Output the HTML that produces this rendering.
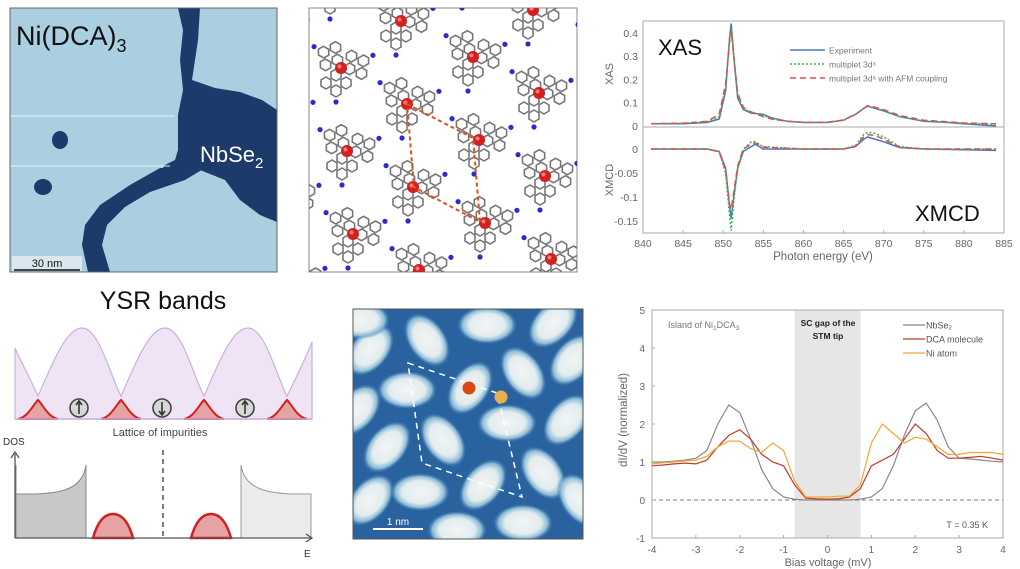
<!DOCTYPE html>
<html><head><meta charset="utf-8">
<style>
html,body{margin:0;padding:0;background:#fff;}
body{width:1020px;height:569px;position:relative;overflow:hidden;font-family:"Liberation Sans",sans-serif;}
svg{position:absolute;left:0;top:0;}
</style></head>
<body>
<svg width="1020" height="569" viewBox="0 0 1020 569">
<defs>
  <radialGradient id="blob" cx="50%" cy="50%" r="50%">
    <stop offset="0%" stop-color="#f4f5f5"/>
    <stop offset="60%" stop-color="#e2ecef"/>
    <stop offset="82%" stop-color="#8cbcd6"/>
    <stop offset="100%" stop-color="#3a78b0" stop-opacity="0"/>
  </radialGradient>
  <g id="arm">
    <polygon points="0,-10 5,-13 10,-10 10,-4 5,-1 0,-4" fill="none" stroke="#777" stroke-width="1.6"/>
    <polygon points="-10,-18 -5,-21 0,-18 0,-12 -5,-9 -10,-12" fill="none" stroke="#777" stroke-width="1.6"/>
    <polygon points="0,-26 5,-29 10,-26 10,-20 5,-17 0,-20" fill="none" stroke="#777" stroke-width="1.6"/>
    <polygon points="10,-18 15,-21 20,-18 20,-12 15,-9 10,-12" fill="none" stroke="#777" stroke-width="1.6"/>
    <circle cx="5" cy="-34" r="2.6" fill="#2a2ad0"/>
    <circle cx="2" cy="-3" r="2.4" fill="#2a2ad0"/>
  </g>
  <g id="mol">
    <use href="#arm" transform="rotate(-60)"/>
    <use href="#arm" transform="rotate(60)"/>
    <use href="#arm" transform="rotate(180)"/>
    <circle r="6" fill="#d62020"/>
    <circle cx="-1.5" cy="-1.5" r="2" fill="#f08080"/>
  </g>
  <clipPath id="clipMol"><rect x="309" y="8" width="268" height="264"/></clipPath>
  <clipPath id="clipStm2"><rect x="353" y="309" width="230" height="230"/></clipPath>
</defs>

<!-- STM image 1 -->
<g>
  <rect x="10" y="8" width="267" height="264" fill="#a9cfe0"/>
  <polygon points="178,8 200,8 198,40 192,80 215,88 240,92 262,100 277,110 277,222 260,215 240,200 225,180 200,170 175,168 160,172 165,165 175,160 178,150 178,115 183,90 180,60 183,30" fill="#1c3a6a"/>
  <polygon points="160,168 205,168 185,180 150,192 125,207 107,225 102,245 110,272 88,272 82,245 85,225 100,205 130,185" fill="#1c3a6a"/>
  <ellipse cx="60" cy="140" rx="8" ry="9" fill="#1c3a6a"/>
  <ellipse cx="43" cy="187" rx="9" ry="8" fill="#1c3a6a"/>
  <line x1="10" y1="116" x2="175" y2="116" stroke="#e6f2f8" stroke-width="1"/>
  <line x1="10" y1="166" x2="170" y2="166" stroke="#e6f2f8" stroke-width="1"/>
  <text x="16" y="45" font-size="27" fill="#111">Ni(DCA)<tspan font-size="18" dy="7">3</tspan></text>
  <text x="200" y="162" font-size="22" fill="#fff">NbSe<tspan font-size="15" dy="6">2</tspan></text>
  <rect x="12" y="256" width="70" height="15" fill="#d8e8ee"/>
  <line x1="14" y1="270" x2="80" y2="270" stroke="#111" stroke-width="1.5"/>
  <text x="47" y="267" font-size="11" text-anchor="middle" fill="#111">30 nm</text>
  <rect x="10" y="8" width="267" height="264" fill="none" stroke="#666" stroke-width="1"/>
</g>

<!-- molecular model -->
<g>
  <rect x="309" y="8" width="268" height="264" fill="#fff" stroke="#888" stroke-width="1"/>
  <g clip-path="url(#clipMol)" id="molLayer"></g>
  <polygon points="407,104 473,138 480,222 414,187" fill="none" stroke="#e0501c" stroke-width="2" stroke-dasharray="4,3"/>
</g>

<!-- XAS / XMCD chart -->
<g id="xasChart"></g>

<!-- YSR schematic -->
<g>
  <text x="163" y="309" font-size="25" text-anchor="middle" fill="#111">YSR bands</text>
  <path d="M15,348 C20,360 30,378 38,396 C50,370 65,328 82,328 C99,328 110,375 121,396 C133,370 148,328 165,328 C182,328 193,375 204,396 C216,370 231,328 248,328 C265,328 276,375 287,396 C295,380 305,360 312,342 L312,419 L15,419 Z" fill="#efe4f6" stroke="#c9b0dc" stroke-width="1.2"/>
  <g fill="#e6a3a3" stroke="#d42020" stroke-width="2">
    <path d="M18,419 C28,417 33,405 38,400 C43,405 48,417 58,419 Z"/>
    <path d="M101,419 C111,417 116,405 121,400 C126,405 131,417 141,419 Z"/>
    <path d="M184,419 C194,417 199,405 204,400 C209,405 214,417 224,419 Z"/>
    <path d="M267,419 C277,417 282,405 287,400 C292,405 297,417 307,419 Z"/>
  </g>
  <line x1="15" y1="419" x2="312" y2="419" stroke="#c9b0dc" stroke-width="1.5"/>
  <g fill="#d8d8d8" stroke="#444" stroke-width="1.6">
    <circle cx="79" cy="408" r="9"/>
    <circle cx="162" cy="408" r="9"/>
    <circle cx="245" cy="408" r="9"/>
  </g>
  <g stroke="#333" stroke-width="1.6" fill="none">
    <path d="M79,414 L79,402 M76,405 L79,401 L82,405"/>
    <path d="M162,402 L162,414 M159,411 L162,415 L165,411"/>
    <path d="M245,414 L245,402 M242,405 L245,401 L248,405"/>
  </g>
  <text x="160" y="436" font-size="11" text-anchor="middle" fill="#444">Lattice of impurities</text>
  <text x="3" y="445" font-size="10" fill="#333">DOS</text>
  <path d="M16,465 L16,494 C50,494 82,495 86,465 L86,538 L16,538 Z" fill="#c8c8c8" stroke="#888" stroke-width="1"/>
  <path d="M311,494 C280,494 245,495 241,465 L241,538 L311,538 Z" fill="#ececec" stroke="#999" stroke-width="1"/>
  <path d="M93,538 C98,520 105,514 113,514 C121,514 128,520 133,538 Z" fill="#e6a3a3" stroke="#d42020" stroke-width="2.5"/>
  <path d="M191,538 C196,520 203,514 211,514 C219,514 226,520 231,538 Z" fill="#e6a3a3" stroke="#d42020" stroke-width="2.5"/>
  <line x1="163" y1="450" x2="163" y2="538" stroke="#555" stroke-width="1.5" stroke-dasharray="5,4"/>
  <line x1="15" y1="538" x2="15" y2="454" stroke="#555" stroke-width="1.3"/>
  <path d="M11,458 L15,452 L19,458" fill="none" stroke="#555" stroke-width="1.3"/>
  <line x1="15" y1="538" x2="311" y2="538" stroke="#555" stroke-width="1.3"/>
  <path d="M306,534 L312,538 L306,542" fill="none" stroke="#555" stroke-width="1.3"/>
  <text x="304" y="557" font-size="10" fill="#333">E</text>
</g>

<!-- STM image 2 -->
<g>
  <rect x="353" y="309" width="230" height="230" fill="#2a62a0"/>
  <g clip-path="url(#clipStm2)" id="blobLayer"></g>
  <polygon points="408,363 497,393 522,497 422,463" fill="none" stroke="#fff" stroke-width="1.5" stroke-dasharray="6,5"/>
  <circle cx="469" cy="388" r="6.5" fill="#dc4a14"/>
  <circle cx="501" cy="397" r="6.5" fill="#e8b04a"/>
  <line x1="373" y1="529" x2="423" y2="529" stroke="#fff" stroke-width="2"/>
  <text x="398" y="525" font-size="10" fill="#fff" text-anchor="middle">1 nm</text>
  <rect x="353" y="309" width="230" height="230" fill="none" stroke="#555" stroke-width="1"/>
</g>

<!-- dI/dV chart -->
<g id="didvChart"></g>
</svg>

<script>
const NS = "http://www.w3.org/2000/svg";
function mk(tag, attrs, parent) {
  const e = document.createElementNS(NS, tag);
  for (const k in attrs) e.setAttribute(k, attrs[k]);
  parent.appendChild(e);
  return e;
}

/* ---------- molecule lattice (illustration) ---------- */
const molLayer = document.getElementById('molLayer');
for (let i = -2; i <= 5; i++) {
  for (let j = -2; j <= 4; j++) {
    const x = 341 + 66 * i + 6 * j;
    const yy = 68 + 36 * i + 83 * j;
    const u = mk('use', {href: '#mol', transform: `translate(${x},${yy - 83 * Math.round((36 * i) / 83)})`}, molLayer);
    
    
  }
}

/* ---------- STM zoom blobs (illustration) ---------- */
const blobLayer = document.getElementById('blobLayer');
const blobs = [[370,350,-50],[427,340,55],[487,325,0],[553,323,-45],[407,390,0],[470,388,-55],[523,373,55],[573,360,-50],
  [357,410,-50],[387,447,-50],[443,440,55],[507,423,0],[567,420,-50],[370,500,-50],[420,492,0],[483,485,-50],[543,473,55],
  [457,530,0],[523,523,0],[580,500,55],[360,320,0]];
for (const b of blobs) {
  const e = mk('ellipse', {cx: b[0], cy: b[1], rx: 30, ry: 19, fill: 'url(#blob)', transform: `rotate(${b[2]},${b[0]},${b[1]})`}, blobLayer);
  
  
}

/* ---------- XAS / XMCD chart data ---------- */
const xasEnergy = [841,845,848,849.5,850.3,850.8,851,851.3,851.8,852.5,853.5,855,856,858,860,863,865,866.5,867.5,868,869,870,872,875,878,880,884];
const xasExperiment = [0.01,0.01,0.015,0.03,0.15,0.38,0.44,0.3,0.12,0.07,0.055,0.05,0.035,0.02,0.015,0.015,0.025,0.05,0.075,0.085,0.075,0.065,0.04,0.02,0.015,0.01,0.0];
const xasMultiplet = [0.01,0.012,0.018,0.04,0.17,0.37,0.42,0.31,0.13,0.075,0.06,0.045,0.03,0.02,0.016,0.016,0.025,0.05,0.075,0.085,0.078,0.066,0.04,0.022,0.016,0.012,0.008];
const xasAFM = [0.01,0.012,0.02,0.05,0.18,0.36,0.41,0.3,0.14,0.08,0.06,0.04,0.03,0.02,0.016,0.016,0.026,0.05,0.075,0.088,0.08,0.07,0.045,0.025,0.018,0.013,0.01];
const xmcdEnergy = [841,848,849.5,850.3,850.8,851,851.3,851.8,852.5,853.5,854,855,860,865,866.5,867.5,868,869,870,872,875,884];
const xmcdExperiment = [0,0,-0.005,-0.04,-0.12,-0.145,-0.1,-0.04,-0.005,0.005,0.01,0,0,0,0.005,0.02,0.025,0.02,0.015,0.003,0,-0.003];
const xmcdMultiplet = [0,0,-0.006,-0.05,-0.14,-0.17,-0.11,-0.04,0.0,0.015,0.015,0.005,0,0,0.008,0.03,0.035,0.032,0.025,0.005,0,0];
const xmcdAFM = [0,0,-0.006,-0.045,-0.115,-0.125,-0.09,-0.035,0.0,0.01,0.012,0.004,0,0,0.006,0.025,0.03,0.028,0.02,0.004,0,0];
const xasXTicks = [840,845,850,855,860,865,870,875,880,885];
const xasYTicks = [0,0.1,0.2,0.3,0.4];
const xmcdYTicks = [0,-0.05,-0.1,-0.15];
const xasLegend = ['Experiment','multiplet 3d⁸','multiplet 3d⁸ with AFM coupling'];

const xE = e => 643 + (e - 840) * (1004 - 643) / 45;
const yXas = v => 126 - v * 233;
const yXmcd = v => 149 - v * 480;

const xas = document.getElementById('xasChart');
mk('rect', {x: 643, y: 21, width: 361, height: 212, fill: 'none', stroke: '#aaa', 'stroke-width': 1}, xas);
mk('line', {x1: 643, y1: 127, x2: 1004, y2: 127, stroke: '#aaa', 'stroke-width': 1}, xas);
for (const t of xasXTicks) {
  const tl = mk('text', {x: xE(t), y: 247, 'font-size': 10.5, fill: '#666', 'text-anchor': 'middle'}, xas);
  tl.textContent = t;
  
  
  mk('line', {x1: xE(t), y1: 233, x2: xE(t), y2: 230, stroke: '#aaa'}, xas);
}
for (const t of xasYTicks) {
  const tl = mk('text', {x: 638, y: yXas(t) + 4, 'font-size': 10.5, fill: '#666', 'text-anchor': 'end'}, xas);
  tl.textContent = t;
  
  
}
for (const t of xmcdYTicks) {
  const tl = mk('text', {x: 638, y: yXmcd(t) + 4, 'font-size': 10.5, fill: '#666', 'text-anchor': 'end'}, xas);
  tl.textContent = t;
  
  
}
let tt = mk('text', {x: 823, y: 260, 'font-size': 11.5, fill: '#666', 'text-anchor': 'middle'}, xas);
tt.textContent = 'Photon energy (eV)';


tt = mk('text', {x: 613, y: 74, 'font-size': 11, fill: '#666', 'text-anchor': 'middle', transform: 'rotate(-90,613,74)'}, xas);
tt.textContent = 'XAS';


tt = mk('text', {x: 613, y: 180, 'font-size': 11, fill: '#666', 'text-anchor': 'middle', transform: 'rotate(-90,613,180)'}, xas);
tt.textContent = 'XMCD';


tt = mk('text', {x: 658, y: 55, 'font-size': 22, fill: '#111'}, xas);
tt.textContent = 'XAS';


tt = mk('text', {x: 915, y: 221, 'font-size': 22, fill: '#111'}, xas);
tt.textContent = 'XMCD';



function linePath(xs, ys, fx, fy) {
  return xs.map((x, i) => (i ? 'L' : 'M') + fx(x).toFixed(1) + ',' + fy(ys[i]).toFixed(1)).join(' ');
}
const xasStyles = [{stroke: '#4a78b8', dash: ''}, {stroke: '#3cb44a', dash: '2,2'}, {stroke: '#e05050', dash: '6,4'}];
const xasSeries = [xasExperiment, xasMultiplet, xasAFM];
const xmcdSeries = [xmcdExperiment, xmcdMultiplet, xmcdAFM];
xasSeries.forEach((s, i) => {
  const p = mk('path', {d: linePath(xasEnergy, s, xE, yXas), fill: 'none', stroke: xasStyles[i].stroke, 'stroke-width': 1.5, 'stroke-dasharray': xasStyles[i].dash}, xas);
  
  
});
xmcdSeries.forEach((s, i) => {
  const p = mk('path', {d: linePath(xmcdEnergy, s, xE, yXmcd), fill: 'none', stroke: xasStyles[i].stroke, 'stroke-width': 1.5, 'stroke-dasharray': xasStyles[i].dash}, xas);
  
  
});
xasLegend.forEach((lab, i) => {
  const y = 50 + i * 14;
  mk('line', {x1: 790, y1: y, x2: 825, y2: y, stroke: xasStyles[i].stroke, 'stroke-width': 1.5, 'stroke-dasharray': xasStyles[i].dash}, xas);
  const t = mk('text', {x: 829, y: y + 3.5, 'font-size': 8.5, fill: '#777'}, xas);
  t.textContent = lab;
  
  
});

/* ---------- dI/dV chart data ---------- */
const biasV = [-4,-3.75,-3.5,-3.25,-3,-2.75,-2.5,-2.25,-2,-1.75,-1.5,-1.25,-1,-0.75,-0.5,-0.25,0,0.25,0.5,0.75,1,1.25,1.5,1.75,2,2.25,2.5,2.75,3,3.25,3.5,3.75,4];
const nbse2 = [1.0,1.0,1.02,1.05,1.1,1.3,2.0,2.5,2.3,1.6,0.8,0.3,0.08,0.02,0,0,0,0,0,0.02,0.08,0.3,0.9,1.7,2.35,2.55,2.1,1.4,1.1,1.08,1.05,1.02,1.0];
const dcaMol = [0.9,0.92,0.95,0.97,0.95,1.05,1.4,1.7,1.85,1.6,1.2,1.0,0.9,0.4,0.05,0.03,0.02,0.03,0.08,0.3,0.9,1.05,1.2,1.6,2.0,1.75,1.3,1.1,1.1,1.12,1.15,1.1,1.05];
const niAtom = [0.95,0.98,1.0,1.03,1.05,1.15,1.4,1.55,1.55,1.35,1.25,1.5,1.3,0.5,0.08,0.08,0.08,0.1,0.1,0.4,1.5,2.0,1.75,1.5,1.65,1.6,1.4,1.2,1.2,1.25,1.25,1.25,1.2];
const didvXTicks = [-4,-3,-2,-1,0,1,2,3,4];
const didvYTicks = [-1,0,1,2,3,4,5];
const didvLegend = ['NbSe₂','DCA molecule','Ni atom'];
const gapBand = [-0.75, 0.75];

const xV = v => 652 + (v + 4) * (1003 - 652) / 8;
const yD = v => 500 - v * 38;

const dd = document.getElementById('didvChart');
const gb = mk('rect', {x: xV(gapBand[0]), y: yD(5), width: xV(gapBand[1]) - xV(gapBand[0]), height: yD(-1) - yD(5), fill: '#e6e6e6'}, dd);


mk('rect', {x: 652, y: yD(5), width: 351, height: yD(-1) - yD(5), fill: 'none', stroke: '#aaa', 'stroke-width': 1}, dd);
mk('line', {x1: 652, y1: yD(0), x2: 1003, y2: yD(0), stroke: '#777', 'stroke-width': 1, 'stroke-dasharray': '4,3'}, dd);
for (const t of didvXTicks) {
  const l = mk('text', {x: xV(t), y: 553, 'font-size': 10, fill: '#666', 'text-anchor': 'middle'}, dd);
  l.textContent = t;
  
  
  mk('line', {x1: xV(t), y1: yD(-1), x2: xV(t), y2: yD(-1) - 3, stroke: '#aaa'}, dd);
}
for (const t of didvYTicks) {
  const l = mk('text', {x: 645, y: yD(t) + 4, 'font-size': 10, fill: '#666', 'text-anchor': 'end'}, dd);
  l.textContent = t;
  
  
  mk('line', {x1: 652, y1: yD(t), x2: 655, y2: yD(t), stroke: '#aaa'}, dd);
}
tt = mk('text', {x: 828, y: 566, 'font-size': 11, fill: '#666', 'text-anchor': 'middle'}, dd);
tt.textContent = 'Bias voltage (mV)';


tt = mk('text', {x: 627, y: 420, 'font-size': 11.5, fill: '#666', 'text-anchor': 'middle', transform: 'rotate(-90,627,420)'}, dd);
tt.textContent = 'dI/dV (normalized)';


tt = mk('text', {x: 668, y: 328, 'font-size': 9, fill: '#777'}, dd);
tt.innerHTML = 'Island of Ni<tspan font-size="6.5" dy="2">1</tspan><tspan dy="-2">DCA</tspan><tspan font-size="6.5" dy="2">3</tspan>';


tt = mk('text', {x: 828, y: 326, 'font-size': 8.5, fill: '#222', 'font-weight': 'bold', 'text-anchor': 'middle'}, dd);
tt.textContent = 'SC gap of the';


tt = mk('text', {x: 828, y: 339, 'font-size': 8.5, fill: '#222', 'font-weight': 'bold', 'text-anchor': 'middle'}, dd);
tt.textContent = 'STM tip';


tt = mk('text', {x: 988, y: 528, 'font-size': 9, fill: '#555', 'text-anchor': 'end'}, dd);
tt.textContent = 'T = 0.35 K';



const didvColors = ['#888888', '#c0392b', '#f0a830'];
[nbse2, dcaMol, niAtom].forEach((s, i) => {
  const p = mk('path', {d: linePath(biasV, s, xV, yD), fill: 'none', stroke: didvColors[i], 'stroke-width': 1.2}, dd);
  
  
});
didvLegend.forEach((lab, i) => {
  const y = 325 + i * 14;
  mk('line', {x1: 903, y1: y, x2: 925, y2: y, stroke: didvColors[i], 'stroke-width': 1.3}, dd);
  const t = mk('text', {x: 926, y: y + 3.5, 'font-size': 9, fill: '#555'}, dd);
  t.textContent = lab;
  
  
});
</script>
</body></html>
